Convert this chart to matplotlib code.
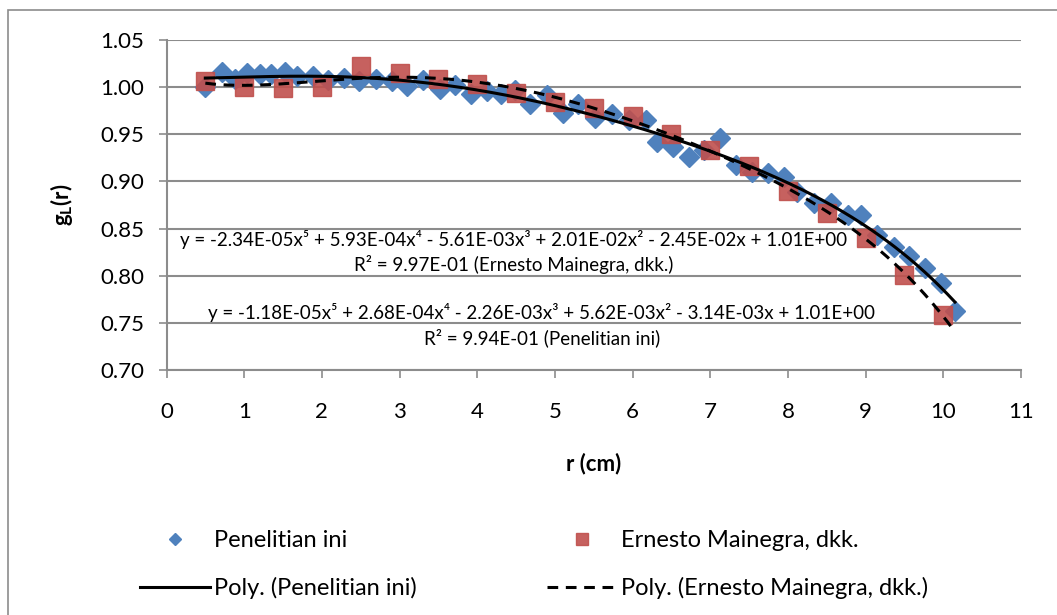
import matplotlib
matplotlib.use("Agg")
import matplotlib.pyplot as plt
import numpy as np
from matplotlib.patches import Rectangle

plt.rcParams['font.family'] = ['Lato', 'DejaVu Sans']
plt.rcParams['mathtext.fontset'] = 'custom'
plt.rcParams['mathtext.rm'] = 'Lato'
plt.rcParams['mathtext.bf'] = 'Lato:bold'
plt.rcParams['mathtext.it'] = 'Lato:italic'

# Penelitian ini (blue diamonds)
r_ini = [0.50, 0.72, 0.88, 1.03, 1.20, 1.35, 1.52, 1.68, 1.88, 2.08,
         2.28, 2.48, 2.70, 2.90, 3.10, 3.30, 3.52, 3.72, 3.92, 4.12,
         4.30, 4.48, 4.68, 4.90, 5.10, 5.30, 5.52, 5.73, 5.95, 6.17,
         6.32, 6.52, 6.72, 6.92, 7.12, 7.33, 7.54, 7.74, 7.95, 8.12,
         8.33, 8.55, 8.77, 8.94, 9.15, 9.36, 9.56, 9.77, 9.97, 10.15]
g_ini = [1.000, 1.016, 1.009, 1.015, 1.014, 1.014, 1.016, 1.012, 1.012, 1.008,
         1.010, 1.006, 1.009, 1.006, 1.001, 1.008, 0.998, 1.002, 0.993, 0.996,
         0.993, 0.997, 0.982, 0.992, 0.973, 0.982, 0.967, 0.972, 0.965, 0.965,
         0.942, 0.936, 0.926, 0.933, 0.946, 0.917, 0.910, 0.909, 0.905, 0.889,
         0.877, 0.877, 0.864, 0.864, 0.843, 0.830, 0.821, 0.808, 0.792, 0.763]

# Ernesto Mainegra, dkk. (red squares)
r_em = [0.5, 1.0, 1.5, 2.0, 2.5, 3.0, 3.5, 4.0, 4.5, 5.0,
        5.5, 6.0, 6.5, 7.0, 7.5, 8.0, 8.5, 9.0, 9.5, 10.0]
g_em = [1.007, 1.000, 0.999, 1.000, 1.022, 1.015, 1.009, 1.003, 0.994, 0.984,
        0.978, 0.969, 0.950, 0.933, 0.916, 0.890, 0.867, 0.840, 0.801, 0.758]

eq_em = "y = -2.34E-05x⁵ + 5.93E-04x⁴ - 5.61E-03x³ + 2.01E-02x² - 2.45E-02x + 1.01E+00"
r2_em = "R² = 9.97E-01 (Ernesto Mainegra, dkk.)"
eq_ini = "y = -1.18E-05x⁵ + 2.68E-04x⁴ - 2.26E-03x³ + 5.62E-03x² - 3.14E-03x + 1.01E+00"
r2_ini = "R² = 9.94E-01 (Penelitian ini)"

blue = '#4F81BD'
red = '#C0504D'
grey = '#8C8C8C'

fig = plt.figure(figsize=(10.57, 6.15), dpi=100)
ax = fig.add_axes([166.5 / 1057, 1 - 370 / 615, (1021 - 166.5) / 1057, 330 / 615])

# outer chart border
fig.patches.append(Rectangle((8 / 1057, -0.1), 1.2, 1.1 - 10 / 615, transform=fig.transFigure,
                             fill=False, edgecolor=grey, lw=1.2))

ax.plot(r_ini, g_ini, linestyle='none', marker='D', ms=10, color=blue, label='Penelitian ini', zorder=3)
ax.plot(r_em, g_em, linestyle='none', marker='s', ms=13.5, color=red, alpha=0.9,
        label='Ernesto Mainegra, dkk.', zorder=4)

# polynomial trendlines (order 5), like Excel
xx = np.linspace(min(r_ini), max(r_ini), 300)
p_ini = np.polyfit(r_ini, g_ini, 5)
p_em = np.polyfit(r_em, g_em, 5)
ax.plot(xx, np.polyval(p_ini, xx), color='black', lw=2.2, label='Poly. (Penelitian ini)', zorder=5)
ax.plot(xx, np.polyval(p_em, xx), color='black', lw=2.2, linestyle=(0, (3.5, 2.5)),
        label='Poly. (Ernesto Mainegra, dkk.)', zorder=5)

ax.set_xlim(0, 11)
ax.set_ylim(0.70, 1.05)
ax.set_xticks(range(0, 12))
ax.set_yticks(np.arange(0.70, 1.051, 0.05))
ax.set_yticklabels([f"{v:.2f}" for v in np.arange(0.70, 1.051, 0.05)])
ax.yaxis.grid(True, color=grey, lw=1.5)
ax.set_axisbelow(True)
for s in ['top', 'right']:
    ax.spines[s].set_visible(False)
for s in ['left', 'bottom']:
    ax.spines[s].set_color(grey)
    ax.spines[s].set_linewidth(1.5)
ax.tick_params(axis='both', colors=grey, labelcolor='black', labelsize=16, length=6, width=1.2)
ax.tick_params(axis='y', pad=10)
ax.tick_params(axis='x', pad=17)

ax.set_xlabel('r (cm)', fontsize=16, fontweight='bold', labelpad=22)
ax.set_ylabel(r'$\mathbf{g_L(r)}$', fontsize=16, labelpad=18)

ax.text(0.4067, 0.394, eq_em, transform=ax.transAxes, ha='center', va='center', fontsize=13.5)
ax.text(0.4067, 0.321, r2_em, transform=ax.transAxes, ha='center', va='center', fontsize=13.5)
ax.text(0.4394, 0.173, eq_ini, transform=ax.transAxes, ha='center', va='center', fontsize=13.5)
ax.text(0.4394, 0.097, r2_ini, transform=ax.transAxes, ha='center', va='center', fontsize=13.5)

h, l = ax.get_legend_handles_labels()
order = [0, 2, 1, 3]
fig.legend([h[i] for i in order], [l[i] for i in order], ncol=2, frameon=False,
           loc='upper left', bbox_to_anchor=(140 / 1057, 1 - 530 / 615), fontsize=17,
           handlelength=2.95, handletextpad=0.2, columnspacing=5.5, labelspacing=1.1,
           borderpad=0, borderaxespad=0, markerscale=0.65)

fig.savefig('out.png', dpi=100)
